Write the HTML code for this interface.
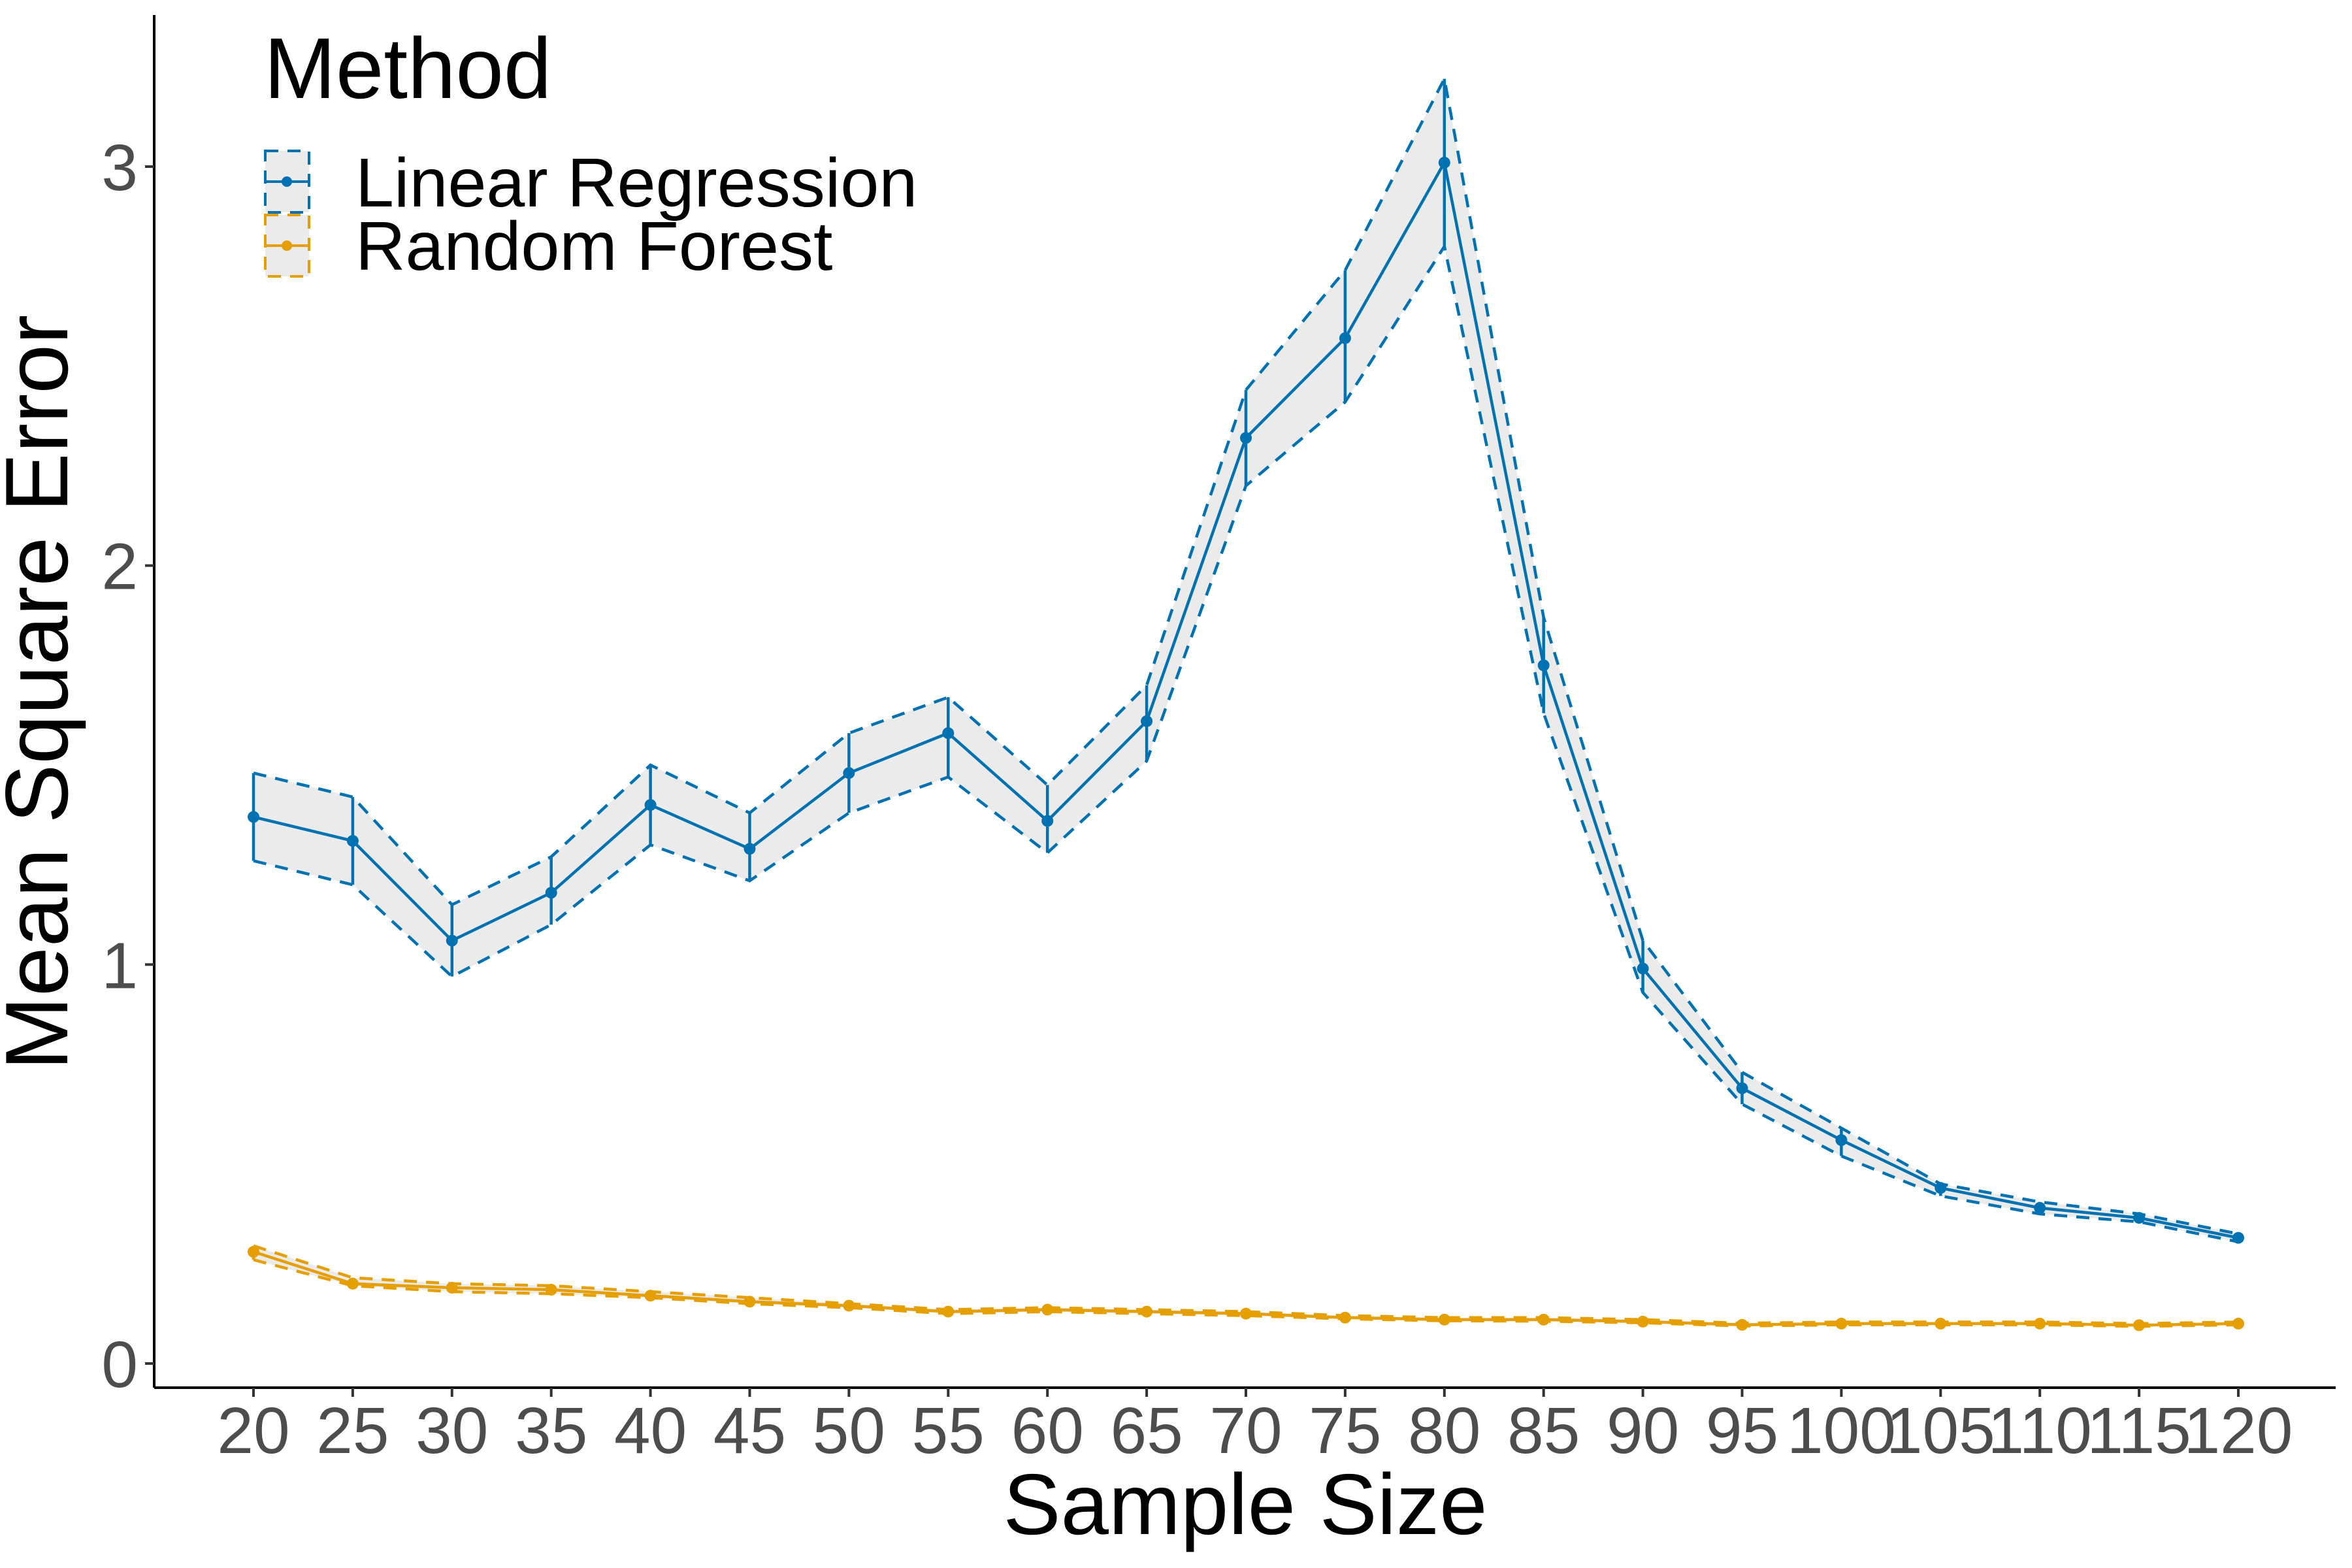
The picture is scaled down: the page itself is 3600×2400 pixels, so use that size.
<!DOCTYPE html>
<html><head><meta charset="utf-8"><style>
html,body{margin:0;padding:0;background:#fff}
svg{display:block;font-family:"Liberation Sans",Arial,sans-serif}
</style></head><body>
<svg id="chart" width="3600" height="2400" viewBox="0 0 3600 2400">
<g id="ribbons"></g><g id="series"></g>
<line x1="236" y1="23" x2="236" y2="2124" stroke="#000" stroke-width="4"/>
<line x1="236" y1="2124" x2="3575" y2="2124" stroke="#000" stroke-width="4"/>
<g id="axes"></g>
<text x="1906" y="2348" font-size="132" text-anchor="middle">Sample Size</text>
<text transform="translate(103,1060) rotate(-90)" font-size="136" text-anchor="middle">Mean Square Error</text>
<g>
<text x="404" y="150" font-size="132">Method</text>
<g>
<rect x="406" y="231" width="67" height="94" fill="#EBEBEB" stroke="#0072B2" stroke-width="4" stroke-dasharray="20,14"/>
<line x1="408" y1="278" x2="471" y2="278" stroke="#0072B2" stroke-width="4"/><circle cx="439" cy="278" r="8" fill="#0072B2"/>
<text x="544" y="316" font-size="106">Linear Regression</text></g>
<g>
<rect x="406" y="329" width="67" height="94" fill="#EBEBEB" stroke="#E69F00" stroke-width="4" stroke-dasharray="20,14"/>
<line x1="408" y1="376" x2="471" y2="376" stroke="#E69F00" stroke-width="4"/><circle cx="439" cy="376" r="8" fill="#E69F00"/>
<text x="544" y="413" font-size="106">Random Forest</text></g>
</g>
</svg>
<script>
const sampleSizes=[20,25,30,35,40,45,50,55,60,65,70,75,80,85,90,95,100,105,110,115,120];
const lrMean=[1.37,1.31,1.06,1.18,1.40,1.29,1.48,1.58,1.36,1.61,2.32,2.57,3.01,1.75,0.99,0.69,0.56,0.44,0.39,0.365,0.315];
const lrLow=[1.26,1.20,0.97,1.10,1.30,1.21,1.38,1.47,1.28,1.51,2.20,2.41,2.80,1.63,0.93,0.65,0.52,0.42,0.375,0.355,0.305];
const lrHigh=[1.48,1.42,1.15,1.27,1.50,1.38,1.58,1.67,1.45,1.70,2.44,2.74,3.22,1.87,1.06,0.73,0.59,0.45,0.405,0.375,0.325];
const rfMean=[0.28,0.20,0.19,0.185,0.17,0.155,0.145,0.13,0.135,0.13,0.125,0.115,0.11,0.11,0.105,0.097,0.10,0.10,0.10,0.096,0.10];
const rfLow=[0.26,0.195,0.18,0.175,0.165,0.15,0.14,0.125,0.13,0.125,0.12,0.112,0.107,0.106,0.102,0.094,0.097,0.097,0.097,0.093,0.097];
const rfHigh=[0.295,0.215,0.20,0.195,0.18,0.165,0.15,0.135,0.14,0.135,0.13,0.12,0.115,0.115,0.11,0.101,0.104,0.104,0.104,0.1,0.104];
const yTicks=[0,1,2,3];
const NS="http://www.w3.org/2000/svg";
const xs=v=>388+(v-20)*(3426-388)/100;
const ys=v=>2087-v*(2087-255)/3;
function mk(tag,attrs,parent){const e=document.createElementNS(NS,tag);for(const k in attrs)e.setAttribute(k,attrs[k]);parent.appendChild(e);return e;}
const axes=document.getElementById('axes'),rib=document.getElementById('ribbons'),ser=document.getElementById('series');
yTicks.forEach(t=>{
  const l=mk('line',{x1:222,x2:236,y1:ys(t),y2:ys(t),stroke:'#333','stroke-width':4},axes);
  
  
  const tx=mk('text',{x:211,y:ys(t)+36,'font-size':100,fill:'#4D4D4D','text-anchor':'end'},axes);tx.textContent=t;
  
  
});
sampleSizes.forEach(s=>{
  const l=mk('line',{x1:xs(s),x2:xs(s),y1:2124,y2:2138,stroke:'#333','stroke-width':4},axes);
  
  
  const tx=mk('text',{x:xs(s),y:2224,'font-size':100,fill:'#4D4D4D','text-anchor':'middle'},axes);tx.textContent=s;
  
  
});
function pts(a){return a.map((v,i)=>xs(sampleSizes[i])+','+ys(v)).join(' ');}
function drawSeries(mean,lo,hi,col,name){
  const r=mk('polygon',{points:pts(hi)+' '+lo.map((v,i)=>xs(sampleSizes[i])+','+ys(v)).reverse().join(' '),fill:'#EBEBEB'},rib);
  
  
  [lo,hi].forEach((arr,k)=>{const p=mk('polyline',{points:pts(arr),fill:'none',stroke:col,'stroke-width':4.5,'stroke-dasharray':'20,14'},ser);
    
    });
  sampleSizes.forEach((s,i)=>{const e=mk('line',{x1:xs(s),x2:xs(s),y1:ys(lo[i]),y2:ys(hi[i]),stroke:col,'stroke-width':4.5},ser);
    
    });
  const m=mk('polyline',{points:pts(mean),fill:'none',stroke:col,'stroke-width':4.5},ser);
  
  
  sampleSizes.forEach((s,i)=>{const c=mk('circle',{cx:xs(s),cy:ys(mean[i]),r:9,fill:col},ser);
    
    });
}
drawSeries(lrMean,lrLow,lrHigh,'#0072B2','linear-regression');
drawSeries(rfMean,rfLow,rfHigh,'#E69F00','random-forest');
</script>
</body></html>
